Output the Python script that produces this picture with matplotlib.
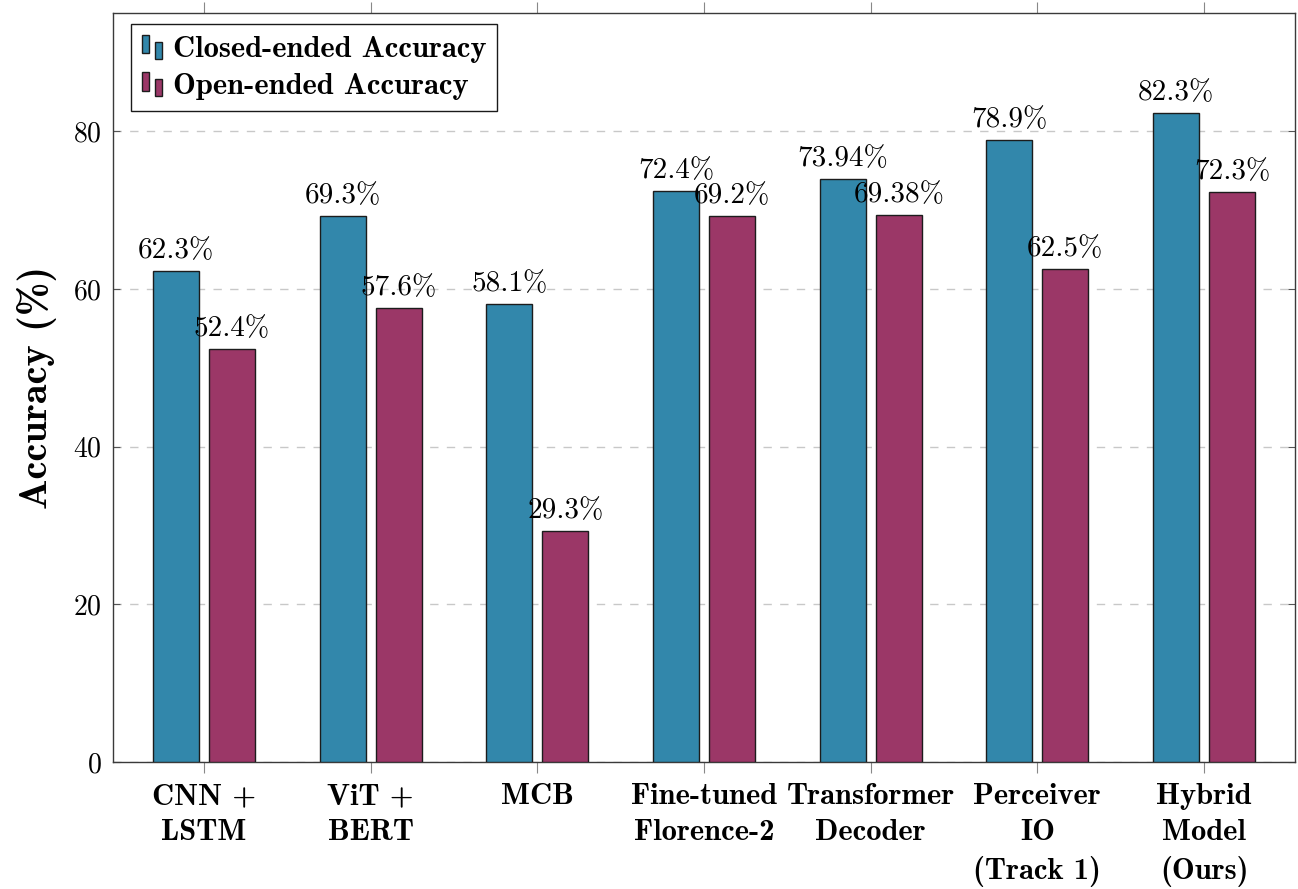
import matplotlib
matplotlib.use("Agg")
import matplotlib.pyplot as plt
from matplotlib.container import BarContainer
from matplotlib.legend_handler import HandlerBase
from matplotlib.patches import Rectangle
import numpy as np

models = [
    "CNN +\nLSTM",
    "ViT +\nBERT",
    "MCB",
    "Fine-tuned\nFlorence-2",
    "Transformer\nDecoder",
    "Perceiver\nIO\n(Track 1)",
    "Hybrid\nModel\n(Ours)",
]
closed_acc = [62.3, 69.3, 58.1, 72.4, 73.94, 78.9, 82.3]
open_acc = [52.4, 57.6, 29.3, 69.2, 69.38, 62.5, 72.3]

BLUE = "#3287ab"
PURPLE = "#9b3767"
EDGE = "#1c1c1c"

plt.rcParams["font.family"] = "cmr10"
plt.rcParams["axes.formatter.use_mathtext"] = True


class TwoBarHandler(HandlerBase):
    """pgfplots-style ybar legend image: two little bars side by side."""

    def create_artists(self, legend, orig_handle, xdescent, ydescent,
                       width, height, fontsize, trans):
        color = orig_handle.patches[0].get_facecolor()
        w = width * 0.3
        r1 = Rectangle((-xdescent, -ydescent + height * 0.15), w, height * 0.85,
                       facecolor=color, edgecolor=EDGE, lw=1.0, transform=trans)
        r2 = Rectangle((-xdescent + width * 0.58, -ydescent - height * 0.1), w,
                       height * 0.8, facecolor=color, edgecolor=EDGE, lw=1.0,
                       transform=trans)
        return [r1, r2]


fig = plt.figure(figsize=(12.98, 8.89), dpi=100)
ax = fig.add_axes([0.0871, 0.1429, 0.9106, 0.8425])

x = np.arange(len(models))
bw = 0.276
shift = 0.168
b1 = ax.bar(x - shift, closed_acc, bw, color=BLUE, edgecolor=EDGE, lw=1.0,
            label="Closed-ended Accuracy", zorder=3)
b2 = ax.bar(x + shift, open_acc, bw, color=PURPLE, edgecolor=EDGE, lw=1.0,
            label="Open-ended Accuracy", zorder=3)

for bars, vals in ((b1, closed_acc), (b2, open_acc)):
    for rect, v in zip(bars, vals):
        ax.annotate(f"{v:g}%", (rect.get_x() + rect.get_width() / 2, v),
                    xytext=(0, 5), textcoords="offset points",
                    ha="center", va="bottom", fontsize=21, zorder=4)

ax.set_xlim(-0.546, len(models) - 1 + 0.546)
ax.set_ylim(0, 95)
ax.set_yticks([0, 20, 40, 60, 80])
ax.set_xticks(x)
ax.set_xticklabels(models, fontfamily="cmb10", fontsize=22, linespacing=1.42)

ax.yaxis.grid(True, color="#c8c8c8", linestyle=(0, (6, 6)), lw=1.0, zorder=0)
ax.set_axisbelow(True)

for s in ax.spines.values():
    s.set_color("#3a3a3a")
    s.set_linewidth(1.0)

ax.tick_params(axis="y", direction="in", length=5, width=0.8, color="#555555",
               left=True, right=True, labelsize=20, pad=8)
ax.tick_params(axis="x", direction="out", length=8, width=0.8, color="#888888",
               bottom=True, top=True, pad=7.5)

ax.set_ylabel("Accuracy (%)", fontfamily="cmb10", fontsize=29, labelpad=12)

leg = ax.legend(handles=[b1, b2], loc="upper left",
                bbox_to_anchor=(0.0152, 0.985), borderaxespad=0,
                prop={"family": "cmb10", "size": 22},
                handler_map={BarContainer: TwoBarHandler()},
                fancybox=False, framealpha=1, edgecolor="#1a1a1a",
                handlelength=0.75, handletextpad=0.25, labelspacing=0.32,
                borderpad=0.36)
leg.get_frame().set_linewidth(1.0)

fig.savefig("out.png", dpi=100)
